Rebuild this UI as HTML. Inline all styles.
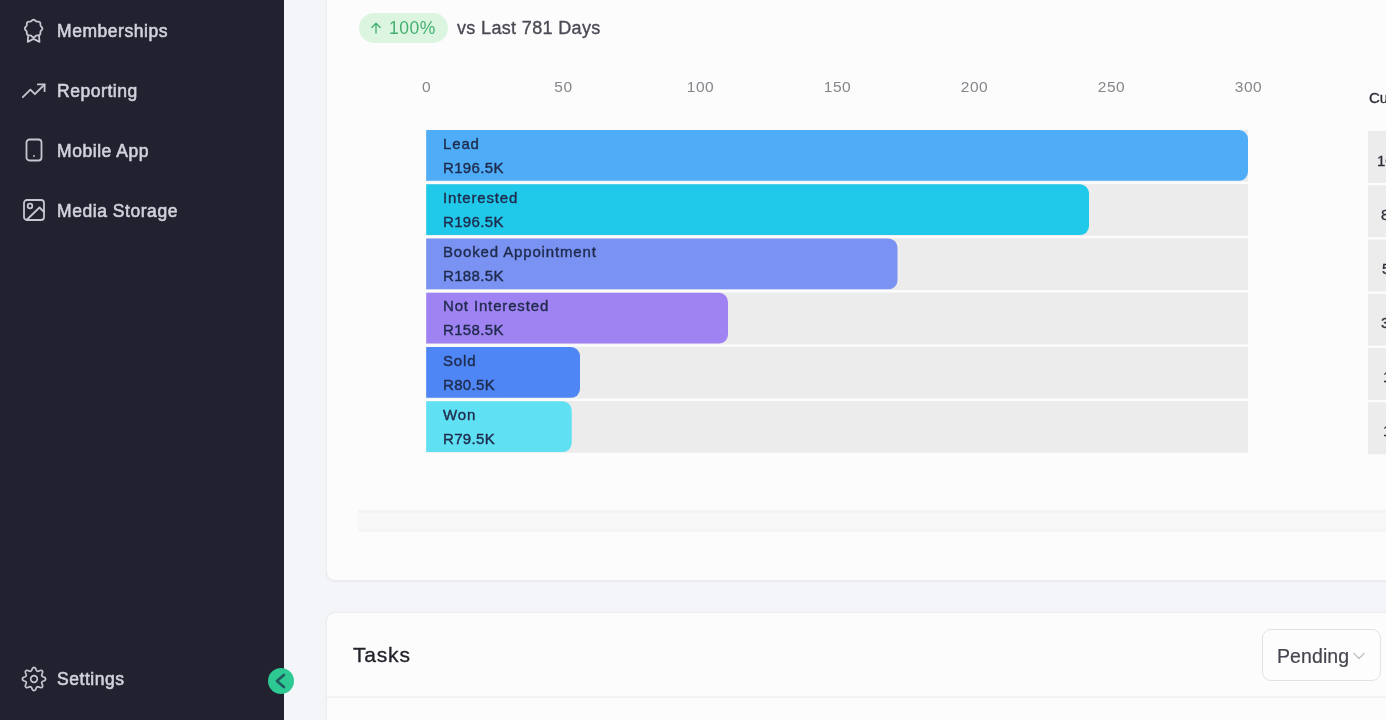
<!DOCTYPE html>
<html lang="en">
<head>
<meta charset="utf-8">
<title>Dashboard</title>
<style>
*{box-sizing:border-box;margin:0;padding:0}
html,body{width:1386px;height:720px;overflow:hidden}
body{position:relative;background:#f4f5f9;font-family:"Liberation Sans",sans-serif;color:#2b2b36}
.abs{position:absolute}
#sidebar{position:absolute;left:0;top:0;width:284px;height:720px;background:#21212f}
.nav{transform:translateY(0.5px);position:absolute;left:57px;font-size:17.5px;color:#d2d2dc;white-space:nowrap;line-height:20px;letter-spacing:0.55px;-webkit-text-stroke:0.6px #d2d2dc}
.ico{position:absolute;left:22px;width:24px;height:24px}
.ico svg{width:24px;height:24px;fill:none;stroke:#c6c6d0;stroke-width:1.8;stroke-linecap:round;stroke-linejoin:round}
#collapse{position:absolute;left:268.3px;top:667.8px;width:26px;height:26px;border-radius:50%;background:#2ec892}
#collapse svg{position:absolute;left:0;top:0;width:26px;height:26px;fill:none;stroke:#1f5b60;stroke-width:2.6;stroke-linecap:round;stroke-linejoin:round}
.card{position:absolute;background:#fcfcfc;border:1px solid #ececf1;border-radius:9px;box-shadow:0 1px 2px rgba(0,0,0,0.05)}
#card1{left:326px;top:-40px;width:1100px;height:621px}
#card2{left:326px;top:612px;width:1100px;height:200px}
#badge{position:absolute;left:359px;top:13px;width:89px;height:30px;border-radius:15px;background:#dcf5e1;color:#43b06f;font-size:17.5px;line-height:30px;white-space:nowrap}
#vs{position:absolute;left:457px;top:15.5px;font-size:18px;line-height:24px;color:#4a4a55;white-space:nowrap;letter-spacing:0.35px;-webkit-text-stroke:0.35px #4a4a55}
.tick{position:absolute;top:76.5px;letter-spacing:0.6px;padding-left:1px;width:60px;margin-left:-30px;text-align:center;font-size:15.5px;line-height:20px;color:#85858c}
.track{position:absolute;left:426px;width:822px;height:51px;background:#ececec}
.bar{position:absolute;left:426px;height:51px;border-radius:0 9px 9px 0}
.bl{position:absolute;left:443px;font-size:15px;line-height:18px;color:#1f2b4d;white-space:nowrap;letter-spacing:0.85px;-webkit-text-stroke:0.4px #1f2b4d}
.bv{letter-spacing:0.35px}
.cell{position:absolute;left:1368px;width:40px;height:51px;background:#ececec}
.cv{position:absolute;font-size:15px;line-height:18px;color:#2b2b36;-webkit-text-stroke:0.3px #2b2b36;white-space:nowrap}
#hscroll{position:absolute;left:358px;top:510px;width:1040px;height:22px;background:#f8f8f8;border-top:3px solid #f4f4f4;border-bottom:3px solid #f5f5f5}
#tasks{position:absolute;left:353px;top:641px;font-size:21px;line-height:28px;color:#22222c;-webkit-text-stroke:0.35px #22222c;letter-spacing:0.8px}
#hdrline{position:absolute;left:327px;top:696px;transform:translateY(0.6px);width:1060px;height:1px;background:#ebebef}
#pending{position:absolute;left:1262px;top:629px;width:119px;height:52px;border:1px solid #e2e2e6;border-radius:9px;background:#fdfdfd}
#pending span{position:absolute;left:14px;top:14px;font-size:19.5px;letter-spacing:0.1px;line-height:24px;color:#45454f;-webkit-text-stroke:0.2px #45454f}
#pending svg{position:absolute;left:89px;top:19px;width:14px;height:14px;fill:none;stroke:#c2c2c8;stroke-width:1.4;stroke-linecap:round;stroke-linejoin:round}
</style>
</head>
<body>
<div id="sidebar">
  <div class="ico" style="top:17px;left:21px;width:26px;height:28px"><svg viewBox="0 0 26 28" style="width:26px;height:28px"><path d="M12.6 2.7L13.4 2.9L14.2 3.5L14.8 4.1L15.5 4.5L16.2 4.7L17.2 4.7L18.1 4.8L18.9 5.2L19.3 6.0L19.4 6.9L19.4 7.9L19.6 8.6L20.0 9.3L20.6 9.9L21.2 10.7L21.4 11.5L21.2 12.3L20.6 13.1L20.0 13.7L19.6 14.4L19.4 15.1L19.4 16.1L19.3 17.0L18.9 17.8L18.1 18.2L17.2 18.3L16.2 18.3L15.5 18.5L14.8 18.9L14.2 19.5L13.4 20.1L12.6 20.4L11.8 20.1L11.0 19.5L10.4 18.9L9.7 18.5L9.0 18.3L8.0 18.3L7.1 18.2L6.3 17.8L5.9 17.0L5.8 16.1L5.8 15.1L5.6 14.4L5.2 13.7L4.6 13.1L4.0 12.3L3.8 11.5L4.0 10.7L4.6 9.9L5.2 9.3L5.6 8.6L5.8 7.9L5.8 6.9L5.9 6.0L6.3 5.2L7.1 4.8L8.0 4.7L9.0 4.7L9.7 4.5L10.4 4.1L11.0 3.5L11.8 2.9Z"/><path d="M7.2 18.8l-.5 6.1 5.9-3 5.9 3-.5-6.1"/></svg></div>
  <div class="nav" style="top:20px">Memberships</div>
  <div class="ico" style="top:79px"><svg viewBox="0 0 24 24"><path d="M0.8 18.2l7.6-7.6 4.5 4.5 9.6-9.6"/><path d="M15.8 5.4h6.8v6.8"/></svg></div>
  <div class="nav" style="top:80px">Reporting</div>
  <div class="ico" style="top:138px"><svg viewBox="0 0 24 24"><rect x="4.5" y="1.5" width="15" height="21" rx="3"/><path d="M12 18h.01"/></svg></div>
  <div class="nav" style="top:140px">Mobile App</div>
  <div class="ico" style="top:198px"><svg viewBox="0 0 24 24"><rect x="2" y="2" width="20" height="20" rx="3"/><circle cx="8" cy="8" r="2.3"/><path d="M22 14l-4.5-4.5L4.5 22"/></svg></div>
  <div class="nav" style="top:200px">Media Storage</div>
  <div class="ico" style="top:665px;left:20px;width:28px;height:28px"><svg viewBox="-14 -14 28 28" style="width:28px;height:28px;stroke-width:1.7"><path d="M0.0 -11.6L1.0 -11.3L1.8 -10.3L2.3 -8.7L2.9 -8.0L3.6 -7.7L4.5 -7.8L6.0 -8.5L7.3 -8.7L8.2 -8.2L8.7 -7.3L8.5 -6.0L7.8 -4.5L7.7 -3.6L8.0 -2.9L8.7 -2.3L10.3 -1.8L11.3 -1.0L11.6 -0.0L11.3 1.0L10.3 1.8L8.7 2.3L8.0 2.9L7.7 3.6L7.8 4.5L8.5 6.0L8.7 7.3L8.2 8.2L7.3 8.7L6.0 8.5L4.5 7.8L3.6 7.7L2.9 8.0L2.3 8.7L1.8 10.3L1.0 11.3L0.0 11.6L-1.0 11.3L-1.8 10.3L-2.3 8.7L-2.9 8.0L-3.6 7.7L-4.5 7.8L-6.0 8.5L-7.3 8.7L-8.2 8.2L-8.7 7.3L-8.5 6.0L-7.8 4.5L-7.7 3.6L-8.0 2.9L-8.7 2.3L-10.3 1.8L-11.3 1.0L-11.6 0.0L-11.3 -1.0L-10.3 -1.8L-8.7 -2.3L-8.0 -2.9L-7.7 -3.6L-7.8 -4.5L-8.5 -6.0L-8.7 -7.3L-8.2 -8.2L-7.3 -8.7L-6.0 -8.5L-4.5 -7.8L-3.6 -7.7L-2.9 -8.0L-2.3 -8.7L-1.8 -10.3L-1.0 -11.3Z"/><circle cx="0" cy="0" r="3.3"/></svg></div>
  <div class="nav" style="top:668px">Settings</div>
</div>

<div class="card" id="card1"></div>
<div class="card" id="card2"></div>

<div id="badge"><svg viewBox="0 0 12 12" style="position:absolute;left:11px;top:9px;width:12px;height:12px;fill:none;stroke:#43b06f;stroke-width:1.3;stroke-linecap:round;stroke-linejoin:round"><path d="M6 11V1.5M1.8 5.5L6 1.3l4.2 4.2"/></svg><span style="position:absolute;left:30px;top:0;letter-spacing:0.5px">100%</span></div>
<div id="vs">vs Last 781 Days</div>

<div class="tick" style="left:426px">0</div>
<div class="tick" style="left:563px">50</div>
<div class="tick" style="left:700px">100</div>
<div class="tick" style="left:837px">150</div>
<div class="tick" style="left:974px">200</div>
<div class="tick" style="left:1111px">250</div>
<div class="tick" style="left:1248px">300</div>



<svg class="abs" style="left:0;top:0" width="1386" height="720" viewBox="0 0 1386 720">
<rect x="426" y="129.75" width="822" height="51.7" fill="#ececec"/>
<rect x="426" y="184.00" width="822" height="51.7" fill="#ececec"/>
<rect x="426" y="238.25" width="822" height="51.7" fill="#ececec"/>
<rect x="426" y="292.50" width="822" height="51.7" fill="#ececec"/>
<rect x="426" y="346.75" width="822" height="51.7" fill="#ececec"/>
<rect x="426" y="401.00" width="822" height="51.7" fill="#ececec"/>
<path d="M426.2 130.10H1239a9 9 0 0 1 9 9v32.70a9 9 0 0 1 -9 9H426.2z" fill="#4facf7"/>
<path d="M426.2 184.35H1080a9 9 0 0 1 9 9v32.70a9 9 0 0 1 -9 9H426.2z" fill="#20c9ea"/>
<path d="M426.2 238.60H888.5a9 9 0 0 1 9 9v32.70a9 9 0 0 1 -9 9H426.2z" fill="#7a92f1"/>
<path d="M426.2 292.85H719a9 9 0 0 1 9 9v32.70a9 9 0 0 1 -9 9H426.2z" fill="#a083f3"/>
<path d="M426.2 347.10H571a9 9 0 0 1 9 9v32.70a9 9 0 0 1 -9 9H426.2z" fill="#4e86f5"/>
<path d="M426.2 401.35H562.7a9 9 0 0 1 9 9v32.70a9 9 0 0 1 -9 9H426.2z" fill="#60e0f3"/>
<rect x="1368" y="131.00" width="30" height="51.9" fill="#ececed"/><rect x="1368" y="185.25" width="30" height="51.9" fill="#ececed"/><rect x="1368" y="239.50" width="30" height="51.9" fill="#ececed"/><rect x="1368" y="293.75" width="30" height="51.9" fill="#ececed"/><rect x="1368" y="348.00" width="30" height="51.9" fill="#ececed"/><rect x="1368" y="402.25" width="30" height="51.9" fill="#ececed"/></svg>
<div class="bl" style="top:135px">Lead</div><div class="bl bv" style="top:159px">R196.5K</div>
<div class="bl" style="top:189px">Interested</div><div class="bl bv" style="top:213px">R196.5K</div>
<div class="bl" style="top:243px">Booked Appointment</div><div class="bl bv" style="top:267px">R188.5K</div>
<div class="bl" style="top:297px">Not Interested</div><div class="bl bv" style="top:321px">R158.5K</div>
<div class="bl" style="top:352px">Sold</div><div class="bl bv" style="top:376px">R80.5K</div>
<div class="bl" style="top:406px">Won</div><div class="bl bv" style="top:430px">R79.5K</div>

<div class="cv" style="left:1369px;top:89px">Cumulative</div>
<div class="cv" style="left:1377px;top:152px">100</div>
<div class="cv" style="left:1381px;top:206px">81</div>
<div class="cv" style="left:1382px;top:260px">57</div>
<div class="cv" style="left:1381px;top:314px">37</div>
<div class="cv" style="left:1383px;top:368px">19</div>
<div class="cv" style="left:1383px;top:422px">18</div>

<div id="hscroll"></div>

<div id="tasks">Tasks</div>
<div id="pending"><span>Pending</span><svg viewBox="0 0 14 14"><path d="M2 4.5l5 5 5-5"/></svg></div>
<div id="hdrline"></div>

<div id="collapse"><svg viewBox="0 0 26 26"><path d="M15.9 6.9L8.9 13l7 6.1"/></svg></div>
</body>
</html>
